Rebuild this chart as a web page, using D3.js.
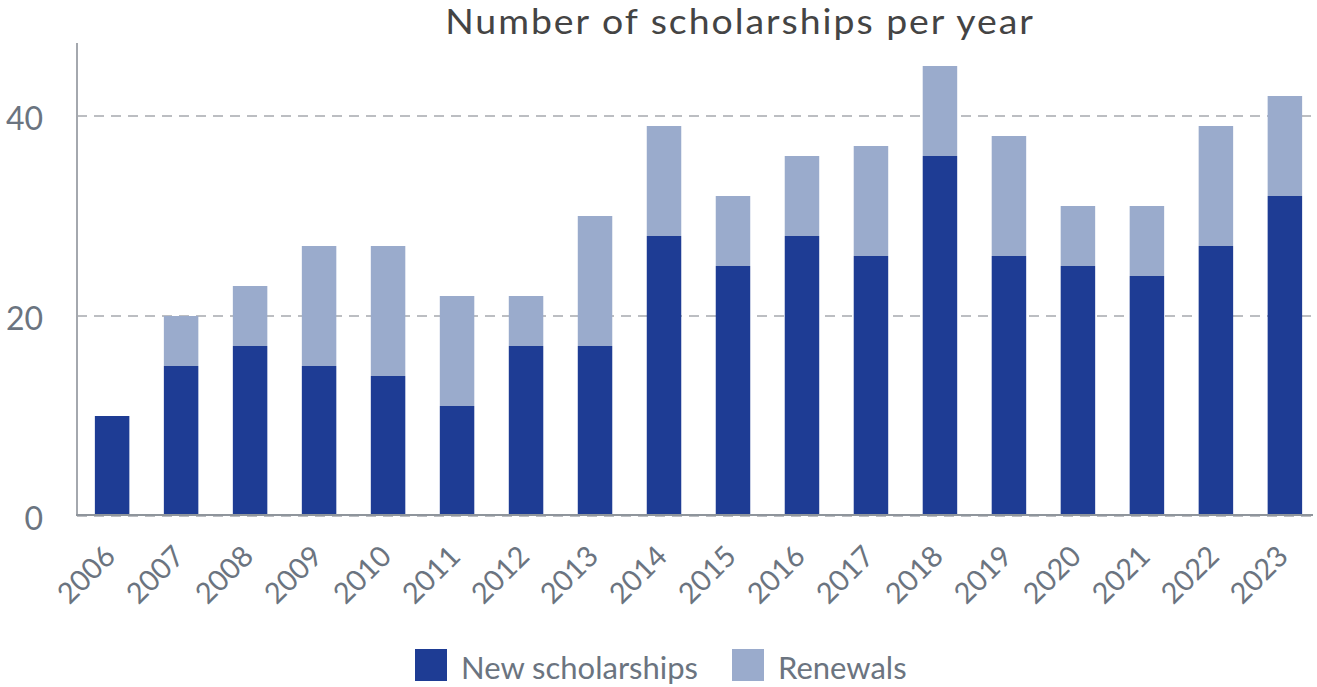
<!DOCTYPE html>
<html>
<head>
<meta charset="utf-8">
<script src="https://cdn.jsdelivr.net/npm/d3@7"></script>
<style>
  body { margin: 0; background: #fff; }
  svg text { font-family: Lato, "Open Sans", sans-serif; }
</style>
</head>
<body>
<div id="chart"></div>
<script>
var years = ["2006", "2007", "2008", "2009", "2010", "2011", "2012", "2013", "2014",
    "2015", "2016", "2017", "2018", "2019", "2020", "2021", "2022", "2023"];
var newScholarships = [10, 15, 17, 15, 14, 11, 17, 17, 28, 25, 28, 26, 36, 26, 25, 24, 27, 32];
var renewals = [0, 5, 6, 12, 13, 11, 5, 13, 11, 7, 8, 11, 9, 12, 6, 7, 12, 10];
var yTicks = [0, 20, 40];
var seriesNames = ["New scholarships", "Renewals"];
var colors = ["#1e3c94", "#9aabcc"];

var width = 1317, height = 687;

var svg = d3.select("#chart").append("svg")
    .attr("width", width)
    .attr("height", height);

var xScale = d3.scaleBand().domain(years).range([79, 1318])
    .paddingInner(0.5).paddingOuter(0.23);
var yScale = d3.scaleLinear().domain([0, 47.3]).range([516, 43]);

// gridlines
svg.append("g").selectAll("line").data(yTicks)
    .enter().append("line")
    .attr("x1", 77).attr("x2", 1313)
    .attr("y1", function (d) { return yScale(d); })
    .attr("y2", function (d) { return yScale(d); })
    .attr("stroke", "#bcbec2")
    .attr("stroke-width", 2)
    .attr("stroke-dasharray", "10,7");

// stacked bars
var rows = years.map(function (y, i) {
    return { year: y, n: newScholarships[i], r: renewals[i] };
});

svg.append("g").selectAll("rect").data(rows)
    .enter().append("rect")
    .attr("x", function (d) { return xScale(d.year); })
    .attr("width", xScale.bandwidth())
    .attr("y", function (d) { return yScale(d.n); })
    .attr("height", function (d) { return yScale(0) - yScale(d.n); })
    .attr("fill", colors[0]);

svg.append("g").selectAll("rect").data(rows.filter(function (d) { return d.r > 0; }))
    .enter().append("rect")
    .attr("x", function (d) { return xScale(d.year); })
    .attr("width", xScale.bandwidth())
    .attr("y", function (d) { return yScale(d.n + d.r); })
    .attr("height", function (d) { return yScale(d.n) - yScale(d.n + d.r); })
    .attr("fill", colors[1]);

// axis lines
svg.append("line")
    .attr("x1", 77).attr("x2", 77)
    .attr("y1", yScale(47.3)).attr("y2", yScale(0))
    .attr("stroke", "#a4a8ae").attr("stroke-width", 2);
svg.append("line")
    .attr("x1", 76).attr("x2", 1313)
    .attr("y1", yScale(0) - 1).attr("y2", yScale(0) - 1)
    .attr("stroke", "#8f959c").attr("stroke-width", 2);

// y tick labels
svg.append("g").selectAll("text").data(yTicks)
    .enter().append("text")
    .attr("x", 43)
    .attr("y", function (d) { return yScale(d) + 14; })
    .attr("text-anchor", "end")
    .attr("fill", "#6b7480")
    .style("font-size", "32px")
    .text(function (d) { return d; });

// x tick labels
svg.append("g").selectAll("text").data(years)
    .enter().append("text")
    .attr("transform", function (d) {
        return "translate(" + (xScale(d) + xScale.bandwidth() / 2 + 5) + ",558) rotate(-45)";
    })
    .attr("text-anchor", "end")
    .attr("fill", "#6b7480")
    .style("font-size", "29px")
    .text(function (d) { return d; });

// title, slightly widened to match the original's broader face
svg.append("text")
    .attr("transform", "translate(740,34) scale(1.1,1)")
    .attr("text-anchor", "middle")
    .attr("fill", "#444444")
    .style("font-size", "34px")
    .style("letter-spacing", "1.8px")
    .text("Number of scholarships per year");

// legend
var legendX = [415, 732];
var legend = svg.append("g").selectAll("g").data(seriesNames)
    .enter().append("g")
    .attr("transform", function (d, i) { return "translate(" + legendX[i] + ",649)"; });
legend.append("rect")
    .attr("width", 32).attr("height", 32)
    .attr("fill", function (d, i) { return colors[i]; });
legend.append("text")
    .attr("x", 46).attr("y", 30)
    .attr("fill", "#6b7480")
    .style("font-size", "31px")
    .text(function (d) { return d; });
</script>
</body>
</html>
